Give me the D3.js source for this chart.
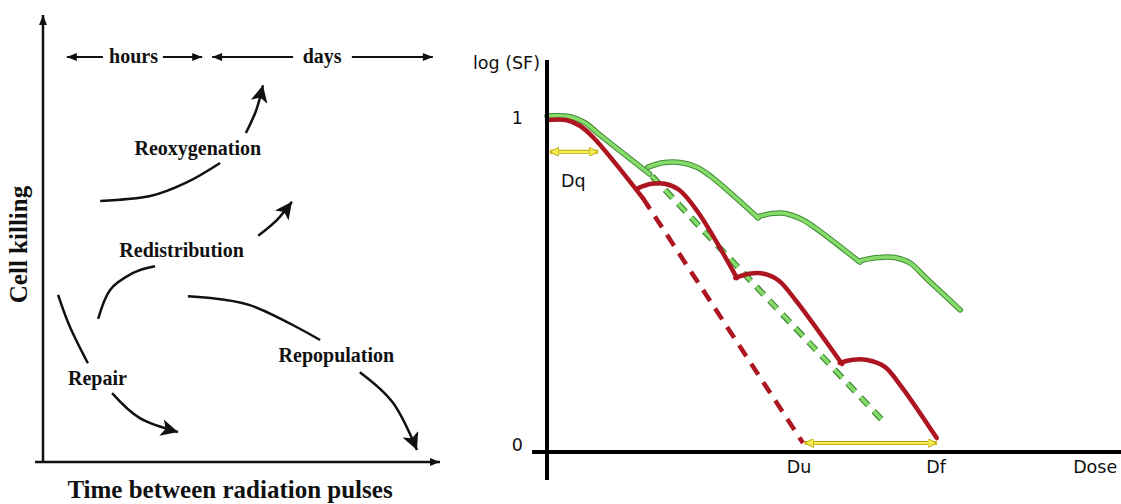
<!DOCTYPE html>
<html>
<head>
<meta charset="utf-8">
<script src="https://cdn.jsdelivr.net/npm/d3@7"></script>
<style>
  body { margin: 0; background: #fff; }
  svg { display: block; }
</style>
</head>
<body>
<div id="chart"></div>
<script>
// ---- left panel: the 4 R's schematic (both axes in 0-100 units) ----
const periodNames = ["hours", "days"];
const periodCentres = [22.8, 70.3];
const periodArrows = [[15.1, 6.0], [30.2, 40.1], [63.0, 42.6], [77.8, 98.2]];
const periodLevel = 90.6;

const processNames = ["Reoxygenation", "Redistribution", "Repair", "Repopulation"];
const processLabelAt = [[39.0, 68.7], [34.9, 45.9], [13.7, 17.2], [73.9, 22.4]];
const processTails = [
    [[14.4, 58.4], [27.0, 59.5], [36.3, 62.6], [44.6, 66.9]],
    [[13.9, 32.0], [16.9, 38.5], [22.7, 42.3], [28.2, 43.8]],
    [[3.8, 37.4], [6.8, 30.2], [11.3, 22.1]],
    [[36.5, 37.1], [52.1, 35.1], [69.8, 27.3]]
];
const processArrows = [
    [[51.1, 73.6], [53.7, 78.7], [55.4, 84.3]],
    [[54.2, 50.6], [58.9, 54.1], [62.7, 58.2]],
    [[17.4, 15.4], [24.4, 9.8], [34.0, 6.7]],
    [[79.8, 20.1], [88.2, 13.2], [94.2, 2.7]]
];

// ---- right panel: log(SF) vs dose, fractionated curves ----
const redFractions = [
    [[0, 1.0], [0.33, 1.0], [0.58, 0.982], [0.82, 0.945], [1.67, 0.765]],
    [[1.59, 0.795], [1.82, 0.808], [2.05, 0.808], [2.30, 0.790], [2.62, 0.725], [3.31, 0.524]],
    [[3.28, 0.524], [3.52, 0.537], [3.78, 0.537], [4.04, 0.516], [4.34, 0.455], [5.14, 0.265]],
    [[5.10, 0.268], [5.33, 0.278], [5.58, 0.277], [5.88, 0.257], [6.17, 0.198], [6.79, 0.042]]
];
const greenFractions = [
    [[0, 1.012], [0.40, 1.010], [0.66, 0.992], [0.92, 0.955], [1.79, 0.837]],
    [[1.76, 0.858], [2.02, 0.871], [2.32, 0.872], [2.61, 0.858], [2.87, 0.828], [3.68, 0.705]],
    [[3.66, 0.708], [3.90, 0.718], [4.13, 0.719], [4.41, 0.703], [4.65, 0.678], [5.45, 0.572]],
    [[5.44, 0.575], [5.72, 0.585], [6.06, 0.586], [6.32, 0.570], [6.62, 0.521], [7.20, 0.428]]
];
const redExtrapolation = [[1.67, 0.765], [4.46, 0.027]];
const greenExtrapolation = [[1.83, 0.831], [5.84, 0.096]];
const dqSpan = [[0.05, 0.904], [0.89, 0.904]];
const duDfSpan = [[4.49, 0.027], [6.79, 0.027]];
const yTicks = [0, 1];
const doseLabels = ["Du", "Df", "Dose"];
const doseLabelAt = [4.39, 6.78, 9.55];

const W = 1121, H = 504;
const svg = d3.select("#chart").append("svg")
    .attr("width", W)
    .attr("height", H);

const defs = svg.append("defs");
function marker(id, path, w, h, fill, stroke) {
    defs.append("marker")
        .attr("id", id)
        .attr("viewBox", "0 0 10 10")
        .attr("refX", 10).attr("refY", 5)
        .attr("markerUnits", "userSpaceOnUse")
        .attr("markerWidth", w).attr("markerHeight", h)
        .attr("orient", "auto-start-reverse")
        .append("path")
        .attr("d", path)
        .attr("fill", fill)
        .attr("stroke", stroke || "none")
        .attr("stroke-width", stroke ? 1 : 0);
}
marker("bigHead", "M0,0 L10,5 L0,10 L2.5,5 Z", 22, 17, "#111");
marker("smallHead", "M0,1 L10,5 L0,9 Z", 12, 10, "#111");
marker("yellowHead", "M0,0 L10,5 L0,10 Z", 9, 9, "#f3ec55", "#b9a400");

// ---------- left panel ----------
const xL = d3.scaleLinear().domain([0, 100]).range([43, 440]);
const yL = d3.scaleLinear().domain([0, 100]).range([462, 15]);
const left = svg.append("g");
const serif = "'Liberation Serif', 'Times New Roman', serif";

left.append("line")
    .attr("x1", xL(0)).attr("y1", yL(0))
    .attr("x2", xL(0)).attr("y2", yL(100))
    .attr("stroke", "#111").attr("stroke-width", 2.5)
    .attr("marker-end", "url(#smallHead)");
left.append("line")
    .attr("x1", xL(-2)).attr("y1", yL(0))
    .attr("x2", xL(100)).attr("y2", yL(0))
    .attr("stroke", "#111").attr("stroke-width", 2.5)
    .attr("marker-end", "url(#smallHead)");

left.append("text")
    .attr("transform", `translate(27,${(yL(0) + yL(100)) / 2 + 6}) rotate(-90)`)
    .attr("text-anchor", "middle")
    .style("font", `bold 25px ${serif}`)
    .attr("fill", "#111")
    .text("Cell killing");
left.append("text")
    .attr("x", 230).attr("y", 498)
    .attr("text-anchor", "middle")
    .style("font", `bold 25px ${serif}`)
    .attr("fill", "#111")
    .text("Time between radiation pulses");

left.selectAll(".period-arrow")
    .data(periodArrows)
    .enter().append("line")
    .attr("x1", d => xL(d[0])).attr("x2", d => xL(d[1]))
    .attr("y1", yL(periodLevel)).attr("y2", yL(periodLevel))
    .attr("stroke", "#111").attr("stroke-width", 2)
    .attr("marker-end", "url(#smallHead)");
left.selectAll(".period")
    .data(periodNames)
    .enter().append("text")
    .attr("x", (d, i) => xL(periodCentres[i]))
    .attr("y", yL(periodLevel) + 6)
    .attr("text-anchor", "middle")
    .style("font", `bold 20px ${serif}`)
    .attr("fill", "#111")
    .text(d => d);

const curveL = d3.line()
    .x(d => xL(d[0])).y(d => yL(d[1]))
    .curve(d3.curveCardinal);

left.selectAll(".tail")
    .data(processTails)
    .enter().append("path")
    .attr("d", curveL)
    .attr("fill", "none").attr("stroke", "#111").attr("stroke-width", 2.5);
left.selectAll(".arrow")
    .data(processArrows)
    .enter().append("path")
    .attr("d", curveL)
    .attr("fill", "none").attr("stroke", "#111").attr("stroke-width", 2.5)
    .attr("marker-end", "url(#bigHead)");
left.selectAll(".process")
    .data(processNames)
    .enter().append("text")
    .attr("x", (d, i) => xL(processLabelAt[i][0]))
    .attr("y", (d, i) => yL(processLabelAt[i][1]))
    .attr("text-anchor", "middle")
    .style("font", `bold 20px ${serif}`)
    .attr("fill", "#111")
    .text(d => d);

// ---------- right panel ----------
const xR = d3.scaleLinear().domain([0, 10]).range([547, 1121]);
const yR = d3.scaleLinear().domain([0, 1]).range([452, 120]);
const right = svg.append("g");
const sans = "'DejaVu Sans', Verdana, sans-serif";

const curveR = d3.line()
    .x(d => xR(d[0])).y(d => yR(d[1]))
    .curve(d3.curveCatmullRom.alpha(0.5));
const straight = d3.line()
    .x(d => xR(d[0])).y(d => yR(d[1]));

// extrapolated single-dose slopes
right.append("path")
    .attr("d", straight(greenExtrapolation))
    .attr("fill", "none").attr("stroke", "#3f8a34").attr("stroke-width", 6)
    .attr("stroke-dasharray", "11,8");
right.append("path")
    .attr("d", straight(greenExtrapolation))
    .attr("fill", "none").attr("stroke", "#86dc6a").attr("stroke-width", 3.5)
    .attr("stroke-dasharray", "11,8");
right.append("path")
    .attr("d", straight(redExtrapolation))
    .attr("fill", "none").attr("stroke", "#ad1520").attr("stroke-width", 4.5)
    .attr("stroke-dasharray", "13,9");

// fractionated curves
right.selectAll(".green-edge")
    .data(greenFractions)
    .enter().append("path")
    .attr("d", curveR)
    .attr("fill", "none").attr("stroke", "#3f8a34").attr("stroke-width", 5.5)
    .attr("stroke-linecap", "round");
right.selectAll(".green")
    .data(greenFractions)
    .enter().append("path")
    .attr("d", curveR)
    .attr("fill", "none").attr("stroke", "#86dc6a").attr("stroke-width", 3.5)
    .attr("stroke-linecap", "round");
right.selectAll(".red")
    .data(redFractions)
    .enter().append("path")
    .attr("d", curveR)
    .attr("fill", "none").attr("stroke", "#ad1520").attr("stroke-width", 4.5)
    .attr("stroke-linecap", "round");

// Dq and Du-Df spans
[dqSpan, duDfSpan].forEach(span => {
    right.append("path")
        .attr("d", straight(span))
        .attr("fill", "none").attr("stroke", "#b9a400").attr("stroke-width", 4);
    right.append("path")
        .attr("d", straight(span))
        .attr("fill", "none").attr("stroke", "#f3ec55").attr("stroke-width", 2.2)
        .attr("marker-start", "url(#yellowHead)")
        .attr("marker-end", "url(#yellowHead)");
});

// axes
right.append("line")
    .attr("x1", xR(0)).attr("x2", xR(0))
    .attr("y1", 60).attr("y2", 480)
    .attr("stroke", "#000").attr("stroke-width", 4);
right.append("line")
    .attr("x1", xR(-0.26)).attr("x2", W)
    .attr("y1", yR(0)).attr("y2", yR(0))
    .attr("stroke", "#000").attr("stroke-width", 4);

right.selectAll(".ytick")
    .data(yTicks)
    .enter().append("text")
    .attr("x", xR(0) - 24)
    .attr("y", d => yR(d) + (d === 0 ? -1 : 4))
    .attr("text-anchor", "end")
    .style("font", `17.5px ${sans}`)
    .attr("fill", "#111")
    .text(d => d);
right.append("text")
    .attr("x", xR(0) - 7).attr("y", 69)
    .attr("text-anchor", "end")
    .style("font", `17.5px ${sans}`)
    .attr("fill", "#111")
    .text("log (SF)");
right.append("text")
    .attr("x", xR(0.46)).attr("y", yR(0.798))
    .attr("text-anchor", "middle")
    .style("font", `17.5px ${sans}`)
    .attr("fill", "#111")
    .text("Dq");
right.selectAll(".dose")
    .data(doseLabels)
    .enter().append("text")
    .attr("x", (d, i) => xR(doseLabelAt[i]))
    .attr("y", yR(0) + 21)
    .attr("text-anchor", "middle")
    .style("font", `17.5px ${sans}`)
    .attr("fill", "#111")
    .text(d => d);
</script>
</body>
</html>
